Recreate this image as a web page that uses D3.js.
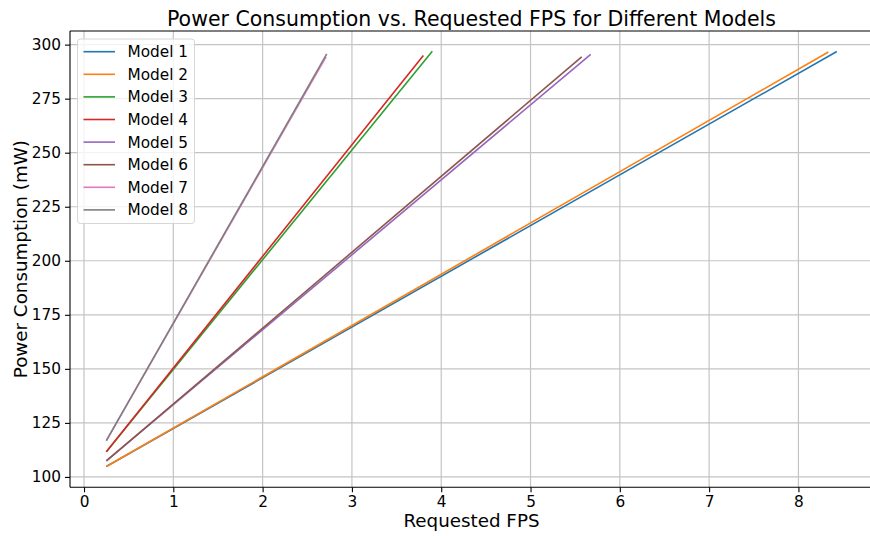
<!DOCTYPE html>
<html>
<head>
<meta charset="utf-8">
<script src="https://cdn.jsdelivr.net/npm/d3@7"></script>
<style>
  html, body { margin: 0; padding: 0; background: #fff; }
  svg { display: block; font-family: "DejaVu Sans", sans-serif; }
</style>
</head>
<body>
<svg id="chart" width="870" height="536"></svg>
<script>
// ---- Data ----
const modelNames = ["Model 1", "Model 2", "Model 3", "Model 4", "Model 5", "Model 6", "Model 7", "Model 8"];
const modelColors = ["#1f77b4", "#ff7f0e", "#2ca02c", "#d62728", "#9467bd", "#8c564b", "#e377c2", "#7f7f7f"];
const model1Fps = [0.25, 8.43];   const model1Power = [104.8, 296.8];
const model2Fps = [0.25, 8.335];  const model2Power = [104.8, 296.6];
const model3Fps = [0.25, 3.90];   const model3Power = [111.7, 296.9];
const model4Fps = [0.25, 3.80];   const model4Power = [111.7, 295.0];
const model5Fps = [0.25, 5.674];  const model5Power = [107.4, 295.5];
const model6Fps = [0.25, 5.573];  const model6Power = [107.4, 294.3];
const model7Fps = [0.25, 2.71];   const model7Power = [116.8, 294.3];
const model8Fps = [0.25, 2.718];  const model8Power = [116.8, 295.7];
const xTicks = [0, 1, 2, 3, 4, 5, 6, 7, 8];
const yTicks = [100, 125, 150, 175, 200, 225, 250, 275, 300];
const titleText = "Power Consumption vs. Requested FPS for Different Models";
const xLabelText = "Requested FPS";
const yLabelText = "Power Consumption (mW)";

const fpsSeries = [model1Fps, model2Fps, model3Fps, model4Fps, model5Fps, model6Fps, model7Fps, model8Fps];
const powerSeries = [model1Power, model2Power, model3Power, model4Power, model5Power, model6Power, model7Power, model8Power];
const series = modelNames.map((name, i) => ({
  name, color: modelColors[i],
  points: fpsSeries[i].map((f, j) => ({ x: f, y: powerSeries[i][j] }))
}));

// ---- Layout ----
const L = 70, R = 873, T = 31, B = 487.3;
const svg = d3.select("#chart");
const x = d3.scaleLinear().domain([-0.157, 8.835]).range([L, R]);
const y = d3.scaleLinear().domain([95.2, 306.3]).range([B, T]);

// Grid
const grid = svg.append("g");
grid.selectAll("line.vx").data(xTicks).join("line")
  .attr("x1", d => x(d)).attr("x2", d => x(d)).attr("y1", T).attr("y2", B)
  .attr("stroke", "#c4c4c4").attr("stroke-width", 1.2);
grid.selectAll("line.hy").data(yTicks).join("line")
  .attr("x1", L).attr("x2", R).attr("y1", d => y(d)).attr("y2", d => y(d))
  .attr("stroke", "#c4c4c4").attr("stroke-width", 1.2);

// Lines
const line = d3.line().x(d => x(d.x)).y(d => y(d.y));
svg.append("g").selectAll("path").data(series).join("path")
  .attr("d", d => line(d.points))
  .attr("fill", "none").attr("stroke", d => d.color).attr("stroke-width", 1.6);

// Axes
const xAxis = d3.axisBottom(x).tickValues(xTicks).tickFormat(d3.format("d")).tickSize(5).tickPadding(4);
const yAxis = d3.axisLeft(y).tickValues(yTicks).tickFormat(d3.format("d")).tickSize(5).tickPadding(4);
const gx = svg.append("g").attr("transform", `translate(0,${B})`).call(xAxis);
const gy = svg.append("g").attr("transform", `translate(${L},0)`).call(yAxis);
[gx, gy].forEach(g => {
  g.select(".domain").remove();
  g.selectAll(".tick line").attr("stroke", "#000").attr("stroke-width", 1.1);
  g.selectAll(".tick text").attr("fill", "#000").style("font-size", "15.3px").style("font-family", "DejaVu Sans");
});

// Spines (left, bottom, top; right lies beyond the frame)
svg.append("line").attr("x1", L).attr("x2", L).attr("y1", T).attr("y2", B).attr("stroke", "#000").attr("stroke-width", 1.1);
svg.append("line").attr("x1", L).attr("x2", R).attr("y1", B).attr("y2", B).attr("stroke", "#000").attr("stroke-width", 1.1);
svg.append("line").attr("x1", L).attr("x2", R).attr("y1", T).attr("y2", T).attr("stroke", "#000").attr("stroke-width", 1.1);

// Title & labels
svg.append("text").attr("x", (L + R) / 2).attr("y", 26).attr("text-anchor", "middle")
  .style("font-size", "20.5px").attr("fill", "#000").text(titleText);
svg.append("text").attr("x", (L + R) / 2).attr("y", 527).attr("text-anchor", "middle")
  .style("font-size", "18.3px").attr("fill", "#000").text(xLabelText);
svg.append("text").attr("transform", `translate(27,${(T + B) / 2}) rotate(-90)`).attr("text-anchor", "middle")
  .style("font-size", "18.3px").attr("fill", "#000").text(yLabelText);

// Legend
const leg = svg.append("g");
leg.append("rect").attr("x", 77.5).attr("y", 39).attr("width", 117).attr("height", 184.5)
  .attr("rx", 3).attr("fill", "#fff").attr("fill-opacity", 0.8).attr("stroke", "#d6d6d6").attr("stroke-width", 1);
const items = leg.selectAll("g.item").data(series).join("g")
  .attr("transform", (d, i) => `translate(0,${51.7 + i * 22.6})`);
items.append("line").attr("x1", 83.5).attr("x2", 115).attr("y1", 0).attr("y2", 0)
  .attr("stroke", d => d.color).attr("stroke-width", 1.6);
items.append("text").attr("x", 127.5).attr("y", 5.4).style("font-size", "15.3px").attr("fill", "#000").text(d => d.name);
</script>
</body>
</html>
